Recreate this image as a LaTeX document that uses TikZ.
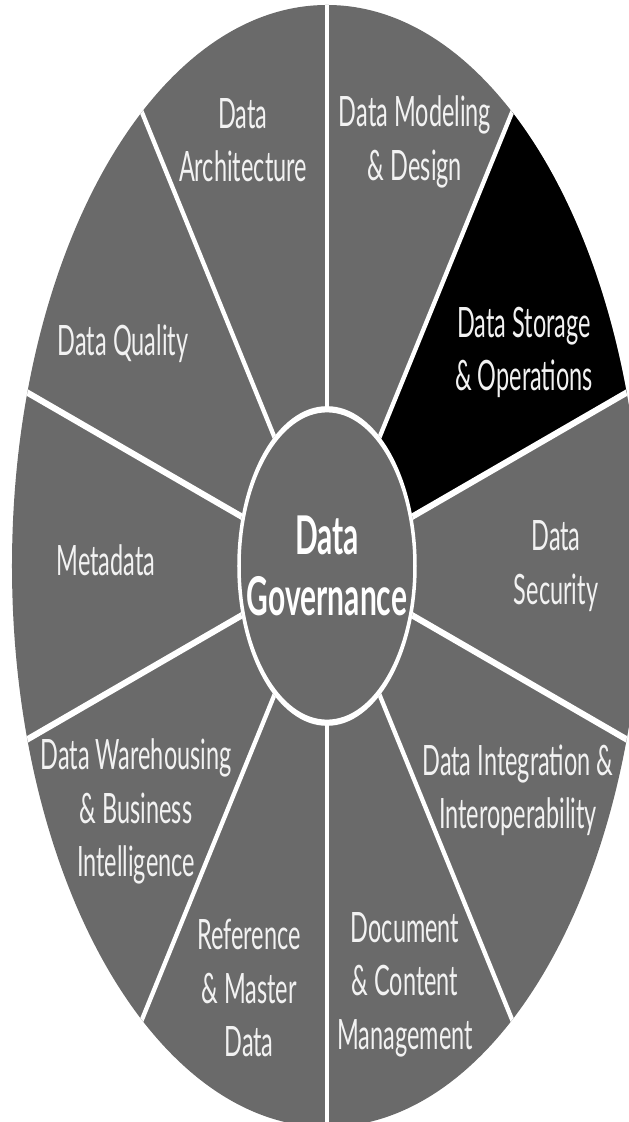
\documentclass[tikz,border=0pt]{standalone}
\usepackage{fontspec}
\setmainfont{Lato}
\definecolor{wheelgray}{RGB}{106,106,106}
\definecolor{labelwhite}{RGB}{242,242,242}

\begin{document}
\begin{tikzpicture}[
    x=1pt, y=1pt,
    area/.style={text=labelwhite, font=\fontsize{23.5}{30}\selectfont, align=center, inner sep=0pt},
    core/.style={circle, draw=white, line width=3.5pt, fill=wheelgray, minimum size=176pt, inner sep=0pt, text=white, font=\bfseries\fontsize{30}{34}\selectfont, align=center},
    spoke/.style={white, line width=3.8pt}
]

\useasboundingbox (-327,-556) rectangle (302,566);
\clip (-327,-556) rectangle (302,566);

% the wheel is drawn round and then stretched upwards
\begin{scope}[transform canvas={yscale=1.781}]
\fill[wheelgray] (0,0) circle (315);
\fill[black] (0,0) -- (18:315) arc (18:54:315) -- cycle;

\node[core] (gov) at (0,0) {Data\\Governance};

\draw[spoke] (gov.90) -- (90:315);
\draw[spoke] (gov.54) -- (54:315);
\draw[spoke] (gov.18) -- (18:315);
\draw[spoke] (gov.-18) -- (-18:315);
\draw[spoke] (gov.-54) -- (-54:315);
\draw[spoke] (gov.-90) -- (-90:315);
\draw[spoke] (gov.-126) -- (-126:315);
\draw[spoke] (gov.-162) -- (-162:315);
\draw[spoke] (gov.162) -- (162:315);
\draw[spoke] (gov.126) -- (126:315);

\node[area] (arch) at (-84,239) {Data\\Architecture};
\node[area] (model) at (88,238) {Data Modeling\\\& Design};
\node[area] (store) at (197,120) {Data Storage\\\& Operations};
\node[area] (secur) at (229,0) {Data\\Security};
\node[area] (integ) at (191,-126) {Data Integration \&\\Interoperability};
\node[area] (docs) at (78,-235) {Document\\\& Content\\Management};
\node[area] (master) at (-78,-237) {Reference\\\& Master\\Data};
\node[area] (dwbi) at (-191,-138) {Data Warehousing\\\& Business\\Intelligence};
\node[area] (meta) at (-221,3) {Metadata};
\node[area] (qual) at (-204,125) {Data Quality};
\end{scope}

\end{tikzpicture}
\end{document}
